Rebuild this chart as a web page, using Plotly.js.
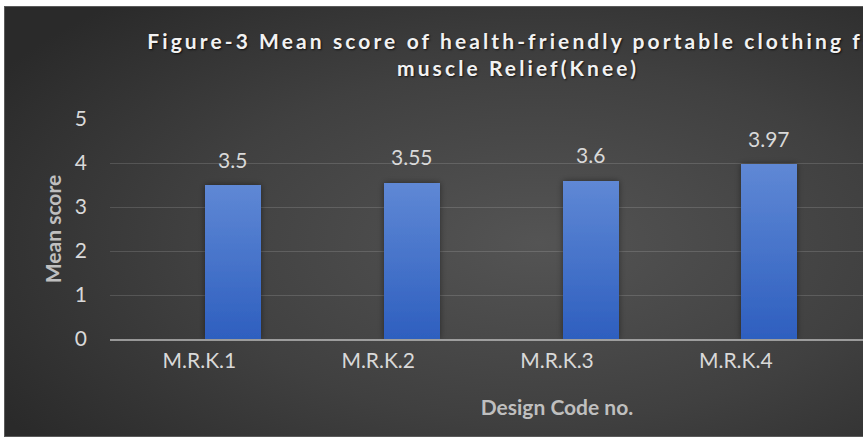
<!DOCTYPE html>
<html>
<head>
<meta charset="utf-8">
<script src="https://cdn.plot.ly/plotly-3.0.1.min.js"></script>
<style>
  html, body { margin: 0; padding: 0; background: #ffffff; overflow: hidden; width: 863px; height: 437px; }
  #chart {
    position: absolute; left: 4px; top: 6px;
    width: 1026px; height: 429px;
    border: 1px solid #5a5a5a;
    background: radial-gradient(ellipse 62% 75% at 52% 55%, #545454 0%, #404040 55%, #2a2a2a 100%);
  }
  #chart .gtitle { letter-spacing: 3.1px; }
</style>
</head>
<body>
<div id="chart"></div>
<script>
// Data
const categories = ['M.R.K.1', 'M.R.K.2', 'M.R.K.3', 'M.R.K.4'];
const meanScores = [3.5, 3.55, 3.6, 3.97];
const scoreLabels = ['3.5', '3.55', '3.6', '3.97'];
const yTicks = [0, 1, 2, 3, 4, 5];

const barWidth = 0.313;
const barOffset = 0.031;

const labelFont = { family: 'Lato, "Open Sans", sans-serif', size: 21, color: '#d9d9d9' };
const axisTitleFont = { family: 'Lato, "Open Sans", sans-serif', size: 21, color: '#bfbfbf', weight: 700 };

const trace = {
  type: 'bar',
  x: categories,
  y: meanScores,
  width: barWidth,
  offset: barOffset,
  marker: { color: '#4573c9', line: { width: 0 } },
  hoverinfo: 'x+y',
  showlegend: false
};

const annotations = categories.map((c, i) => ({
  x: i + barOffset + barWidth / 2,
  y: meanScores[i],
  xref: 'x', yref: 'y',
  text: scoreLabels[i],
  showarrow: false,
  yanchor: 'middle',
  yshift: 26,
  font: labelFont
}));

const layout = {
  width: 1026,
  height: 429,
  paper_bgcolor: 'rgba(0,0,0,0)',
  plot_bgcolor: 'rgba(0,0,0,0)',
  margin: { l: 105, r: 26.5, t: 112, b: 97.3, pad: 0 },
  title: {
    text: 'Figure-3 Mean score of health-friendly portable clothing for<br>muscle Relief(Knee)',
    font: { family: 'Lato, "Open Sans", sans-serif', size: 21, color: '#f2f2f2', weight: 700,
            shadow: '1px 1px 2px rgba(0,0,0,0.7)' },
    x: 0.5, xanchor: 'center',
    yref: 'container', y: 1 - 42 / 429, yanchor: 'top'
  },
  xaxis: {
    type: 'category',
    range: [-0.5, 4.5],
    showgrid: false,
    zeroline: false,
    showline: true,
    linecolor: 'rgba(217,217,217,0.6)',
    linewidth: 2,
    layer: 'above traces',
    ticks: '',
    tickfont: labelFont,
    ticklabelstandoff: 2,
    title: { text: 'Design Code no.', font: axisTitleFont, standoff: 29 },
    fixedrange: true
  },
  yaxis: {
    range: [0, 5],
    tickvals: yTicks,
    ticktext: yTicks.map(String),
    showgrid: true,
    gridcolor: 'rgba(255,255,255,0.14)',
    gridwidth: 1,
    zeroline: false,
    showline: false,
    ticks: '',
    tickfont: labelFont,
    ticklabelstandoff: 22,
    title: { text: 'Mean score', font: axisTitleFont, standoff: 7 },
    fixedrange: true
  },
  annotations: annotations,
  bargap: 0
};

Plotly.newPlot('chart', [trace], layout, { displayModeBar: false, staticPlot: true }).then(gd => {
  const svg = gd.querySelector('svg.main-svg');
  const ns = 'http://www.w3.org/2000/svg';
  let defs = svg.querySelector('defs');
  if (!defs) { defs = document.createElementNS(ns, 'defs'); svg.insertBefore(defs, svg.firstChild); }
  const grad = document.createElementNS(ns, 'linearGradient');
  grad.setAttribute('id', 'barGrad');
  grad.setAttribute('x1', '0'); grad.setAttribute('y1', '0');
  grad.setAttribute('x2', '0'); grad.setAttribute('y2', '1');
  [['0%', '#5f88d5'], ['100%', '#2e5fbf']].forEach(([o, c]) => {
    const s = document.createElementNS(ns, 'stop');
    s.setAttribute('offset', o); s.setAttribute('stop-color', c);
    grad.appendChild(s);
  });
  defs.appendChild(grad);
  const filt = document.createElementNS(ns, 'filter');
  filt.setAttribute('id', 'barShadow');
  filt.setAttribute('x', '-30%'); filt.setAttribute('y', '-10%');
  filt.setAttribute('width', '160%'); filt.setAttribute('height', '120%');
  const ds = document.createElementNS(ns, 'feDropShadow');
  ds.setAttribute('dx', '0'); ds.setAttribute('dy', '0');
  ds.setAttribute('stdDeviation', '3');
  ds.setAttribute('flood-color', '#000'); ds.setAttribute('flood-opacity', '0.45');
  filt.appendChild(ds);
  defs.appendChild(filt);
  gd.querySelectorAll('.barlayer .point path').forEach(p => {
    p.style.fill = 'url(#barGrad)';
    p.style.filter = 'url(#barShadow)';
  });
});
</script>
</body>
</html>
